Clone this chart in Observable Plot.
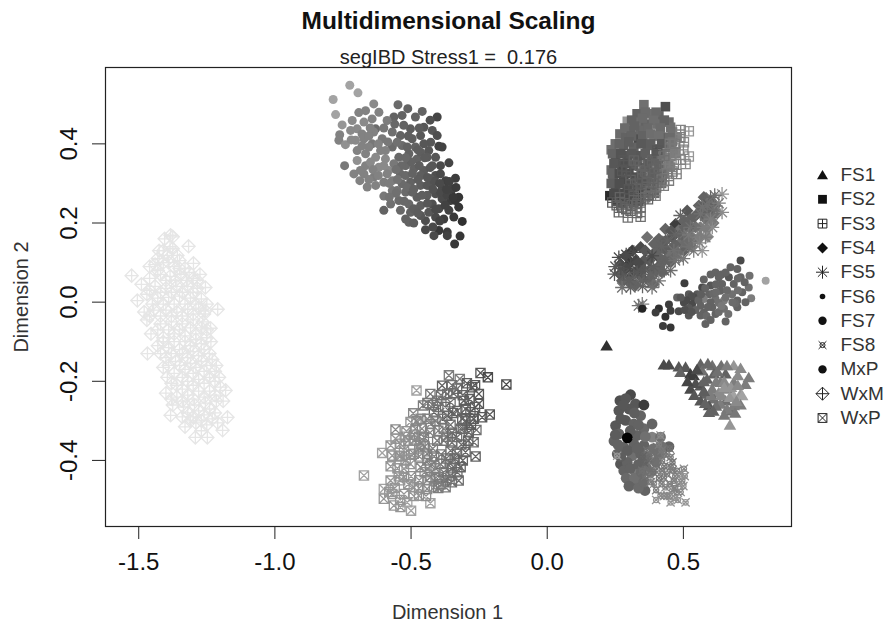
<!DOCTYPE html>
<html><head><meta charset="utf-8">
<script src="https://cdn.jsdelivr.net/npm/d3@7"></script>
<script src="https://cdn.jsdelivr.net/npm/@observablehq/plot@0.6"></script>
<style>html,body{margin:0;padding:0;background:#fff}svg{display:block}</style>
</head><body><div id="chart"></div>
<script>
// each row: [dimension 1, dimension 2, shade]
const FS1=[[.218,-.11,.1],[.428,-.158,.2],[.447,-.158,.2],[.483,-.163,.25],[.508,-.164,.25],[.489,-.177,.3],[.526,-.181,.15],[.563,-.156,.3],[.606,-.16,.35],[.639,-.16,.35],[.685,-.16,.5],[.71,-.167,.45],[.569,-.173,.35],[.612,-.181,.3],[.655,-.181,.3],[.538,-.185,.15],[.587,-.194,.3],[.636,-.202,.4],[.685,-.202,.4],[.728,-.207,.4],[.526,-.219,.2],[.563,-.211,.25],[.606,-.219,.4],[.661,-.219,.45],[.71,-.232,.5],[.581,-.232,.3],[.63,-.228,.45],[.685,-.236,.55],[.716,-.236,.55],[.563,-.249,.25],[.612,-.244,.35],[.655,-.249,.35],[.71,-.259,.4],[.594,-.261,.25],[.636,-.257,.4],[.679,-.274,.35],[.594,-.278,.3],[.685,-.261,.4],[.671,-.31,.5],
[.55,-.17,.2],[.59,-.155,.32],[.625,-.175,.35],[.66,-.16,.4],[.7,-.185,.45],[.74,-.19,.4],[.545,-.205,.22],[.575,-.2,.3],[.62,-.2,.4],[.65,-.2,.45],[.675,-.215,.5],[.7,-.21,.45],[.6,-.235,.4],[.64,-.235,.45],[.67,-.24,.5],[.695,-.25,.45],[.575,-.225,.28],[.58,-.255,.3],[.62,-.262,.35],[.66,-.27,.4],[.61,-.275,.3],[.69,-.28,.38],[.65,-.285,.38],[.515,-.2,.18],[.54,-.235,.25],[.65,-.215,.5]];
const FS2=[[.355,.499,.35],[.434,.494,.22],[.33,.476,.3],[.379,.476,.35],[.41,.471,.3],[.294,.457,.5],[.336,.455,.35],[.447,.455,.33],[.361,.45,.3],[.404,.45,.35],[.267,.425,.33],[.306,.434,.3],[.343,.434,.32],[.392,.421,.42],[.453,.442,.35],[.288,.417,.3],[.336,.412,.2],[.434,.417,.3],[.477,.417,.42],[.235,.385,.35],[.281,.396,.28],[.318,.391,.3],[.367,.396,.3],[.404,.387,.2],[.453,.391,.35],[.251,.358,.2],[.294,.37,.25],[.343,.37,.25],[.385,.362,.3],[.434,.366,.4],[.235,.334,.32],[.275,.337,.2],[.318,.345,.28],[.361,.341,.28],[.41,.332,.3],[.453,.341,.4],[.242,.311,.3],[.281,.307,.2],[.324,.316,.22],[.367,.307,.25],[.41,.307,.3],[.251,.29,.25],[.294,.286,.22],[.336,.286,.22],[.379,.286,.3],[.23,.269,.08],[.263,.265,.2],[.306,.265,.22],[.343,.269,.15],[.275,.252,.2],[.318,.252,.22],[.422,.32,.35],
[.36,.48,.33],[.4,.48,.32],[.31,.46,.3],[.35,.465,.33],[.39,.46,.34],[.43,.46,.3],[.285,.44,.33],[.32,.445,.3],[.37,.44,.32],[.415,.44,.33],[.46,.43,.35],[.31,.42,.3],[.35,.42,.3],[.38,.425,.34],[.41,.42,.35],[.45,.415,.33],[.25,.4,.34],[.265,.4,.3],[.3,.405,.28],[.345,.4,.26],[.38,.4,.28],[.42,.4,.26],[.46,.405,.36],[.24,.375,.3],[.27,.375,.24],[.31,.375,.26],[.36,.375,.28],[.4,.375,.26],[.42,.375,.34],[.47,.375,.4],[.245,.35,.25],[.285,.35,.22],[.33,.355,.25],[.37,.35,.27],[.41,.35,.3],[.445,.35,.38],[.24,.325,.3],[.265,.325,.22],[.3,.325,.22],[.345,.325,.25],[.385,.325,.28],[.43,.325,.34],[.235,.3,.28],[.265,.3,.22],[.31,.3,.22],[.345,.3,.24],[.39,.3,.28],[.42,.3,.33],[.245,.275,.2],[.285,.275,.2],[.32,.275,.22],[.36,.275,.22],[.395,.275,.3],[.255,.255,.18],[.295,.255,.2],[.335,.255,.2]];
const FS3=[[.52,.432,.5],[.502,.404,.45],[.489,.417,.4],[.52,.368,.5],[.508,.349,.45],[.475,.324,.4],[.453,.37,.4],[.471,.379,.4],[.41,.337,.35],[.392,.337,.3],[.447,.307,.4],[.428,.294,.4],[.398,.269,.4],[.343,.216,.35],[.296,.214,.35],[.263,.227,.3],[.306,.231,.3],[.239,.252,.25],[.267,.265,.3],[.343,.257,.3],[.281,.358,.25],[.306,.309,.3],[.343,.286,.3],[.367,.303,.3],[.41,.316,.3],[.385,.358,.3],[.404,.383,.25],[.275,.332,.25],[.318,.269,.3],[.275,.24,.3],[.373,.269,.35],[.434,.349,.4],[.465,.349,.4],[.349,.324,.3],[.318,.358,.3],[.343,.24,.3],
[.5,.385,.42],[.49,.36,.42],[.46,.33,.4],[.44,.325,.38],[.42,.31,.35],[.4,.29,.35],[.38,.28,.33],[.36,.265,.32],[.33,.25,.3],[.31,.245,.3],[.29,.235,.3],[.255,.245,.28],[.285,.25,.28],[.33,.225,.33],[.39,.3,.3],[.36,.33,.3],[.33,.3,.28],[.3,.285,.25],[.29,.33,.25],[.34,.345,.3],[.4,.35,.3],[.43,.37,.35],[.47,.4,.38],[.45,.4,.38],[.49,.435,.42],[.37,.26,.3]];
const FS4=[[.288,.117,.2],[.312,.13,.15],[.367,.164,.35],[.392,.147,.3],[.343,.139,.2],[.269,.096,.2],[.306,.101,.15],[.355,.105,.25],[.392,.122,.3],[.422,.139,.3],[.434,.185,.3],[.459,.164,.25],[.471,.197,.15],[.483,.181,.35],[.514,.231,.25],[.502,.206,.3],[.526,.21,.3],[.551,.223,.3],[.575,.265,.3],[.6,.257,.35],[.557,.244,.3],[.587,.235,.3],[.618,.244,.3],[.581,.21,.35],[.563,.189,.4],[.526,.168,.35],[.489,.151,.35],[.453,.134,.3],[.416,.109,.3],[.379,.084,.3],[.343,.071,.25],[.306,.063,.2],[.275,.054,.3],[.324,.042,.3],[.373,.054,.3],[.422,.075,.3],[.453,.101,.3],[.502,.13,.3],[.538,.155,.35],[.587,.185,.4],[.41,.16,.3],[.447,.117,.35],[.343,.088,.25],[.612,.223,.3],[.532,.189,.35],
[.29,.085,.2],[.32,.075,.2],[.325,.105,.18],[.3,.05,.3],[.35,.06,.28],[.36,.13,.25],[.375,.105,.25],[.395,.075,.3],[.405,.13,.3],[.43,.105,.3],[.435,.155,.28],[.465,.115,.32],[.47,.145,.3],[.455,.18,.25],[.495,.17,.3],[.51,.15,.33],[.505,.19,.3],[.53,.14,.35],[.545,.19,.35],[.56,.165,.4],[.54,.215,.3],[.57,.225,.3],[.575,.245,.28],[.595,.215,.35],[.61,.2,.38],[.625,.225,.35],[.6,.235,.3],[.59,.165,.45],[.385,.065,.3],[.41,.09,.3],[.335,.1,.2],[.27,.07,.28],[.43,.135,.28],[.52,.19,.3],[.48,.125,.33],[.39,.045,.32]];
const FS5=[[.642,.273,.5],[.642,.227,.45],[.569,.13,.5],[.247,.071,.25],[.275,.037,.35],[.385,.037,.35],[.349,-.005,.4],[.336,-.009,.35],[.6,.265,.3],[.587,.244,.35],[.606,.189,.45],[.581,.164,.4],[.538,.13,.4],[.483,.113,.35],[.453,.08,.35],[.41,.054,.35],[.343,.054,.3],[.306,.037,.3],[.263,.113,.2],[.306,.096,.2],[.385,.117,.2],[.441,.155,.3],[.502,.172,.35],[.526,.189,.35],[.563,.223,.35],[.489,.219,.3],[.281,.071,.25],[.361,.08,.25],[.404,.088,.3],[.575,.189,.4],[.465,.13,.35],[.318,.063,.3],[.551,.164,.4],[.422,.113,.3],[.318,.126,.2],[.612,.235,.35],
[.29,.12,.2],[.27,.085,.22],[.33,.075,.25],[.35,.04,.3],[.38,.07,.3],[.43,.08,.3],[.47,.105,.35],[.52,.14,.35],[.56,.15,.42],[.6,.21,.4],[.63,.25,.4],[.42,.14,.3],[.47,.17,.3],[.52,.17,.38],[.57,.24,.35],[.3,.055,.28],[.25,.09,.25],[.39,.09,.28],[.5,.11,.38],[.615,.27,.35]];
const FS6=[[.71,.105,.2],[.802,.054,.55],[.743,.067,.35],[.673,.088,.3],[.698,.084,.3],[.618,.075,.3],[.667,.063,.25],[.71,.063,.3],[.63,.063,.3],[.575,.057,.3],[.504,.048,.15],[.569,.037,.2],[.6,.042,.25],[.642,.046,.3],[.685,.046,.3],[.74,.037,.35],[.551,.02,.25],[.594,.02,.3],[.636,.029,.3],[.679,.02,.35],[.716,.025,.3],[.749,.01,.4],[.477,.012,.3],[.52,.02,.25],[.538,.012,.2],[.575,.008,.4],[.618,.008,.35],[.649,.004,.4],[.698,.004,.3],[.728,0,.3],[.502,-.001,.2],[.532,-.005,.2],[.563,-.009,.3],[.606,-.013,.3],[.649,-.017,.35],[.698,-.013,.3],[.447,-.006,.15],[.41,-.016,.1],[.398,-.026,.15],[.349,-.017,.05],[.453,-.022,.15],[.434,-.037,.1],[.483,-.023,.2],[.52,-.034,.25],[.575,-.026,.3],[.618,-.03,.3],[.655,-.049,.3],[.581,-.055,.3],[.563,-.034,.3],[.425,-.06,.15],[.453,-.064,.12],
[.6,.07,.3],[.64,.07,.3],[.58,.035,.3],[.62,.045,.3],[.66,.03,.32],[.7,.03,.35],[.725,.05,.3],[.61,.022,.32],[.655,.012,.35],[.69,-.003,.32],[.6,0,.3],[.63,-.002,.35],[.59,-.012,.3],[.53,.015,.22],[.555,.005,.3],[.51,.005,.2],[.49,.012,.25],[.545,-.02,.3],[.585,-.035,.32],[.63,-.025,.33],[.665,-.03,.35],[.6,-.045,.3],[.7,.06,.32],[.655,.075,.3],[.64,-.01,.38],[.52,-.015,.25],[.505,-.02,.22],[.68,0,.33],[.565,.02,.28],[.62,.025,.33],[.53,-.025,.24]];
const FS7=[[-.725,.548,.55],[-.695,.529,.55],[-.786,.512,.55],[-.777,.474,.55],[-.753,.448,.5],[-.762,.423,.42],[-.765,.409,.42],[-.741,.398,.48],[-.744,.345,.38],[-.71,.324,.42],[-.688,.307,.42],[-.661,.291,.42],[-.6,.232,.3],[-.637,.501,.45],[-.667,.484,.42],[-.692,.479,.42],[-.618,.48,.42],[-.548,.499,.33],[-.512,.489,.3],[-.459,.482,.3],[-.533,.472,.3],[-.484,.468,.3],[-.563,.468,.3],[-.404,.468,.18],[-.588,.459,.4],[-.716,.459,.45],[-.673,.455,.45],[-.643,.463,.42],[-.63,.438,.33],[-.698,.438,.45],[-.722,.434,.45],[-.502,.438,.27],[-.453,.442,.25],[-.422,.434,.25],[-.404,.421,.22],[-.539,.421,.3],[-.569,.43,.35],[-.673,.413,.42],[-.704,.409,.45],[-.606,.413,.38],[-.643,.4,.38],[-.569,.392,.33],[-.533,.396,.33],[-.496,.413,.28],[-.465,.421,.25],[-.435,.383,.25],[-.398,.394,.17],[-.386,.392,.17],[-.698,.383,.42],[-.667,.375,.42],[-.698,.358,.48],[-.63,.366,.45],[-.594,.362,.45],[-.667,.345,.42],[-.618,.341,.45],[-.582,.333,.45],[-.545,.366,.32],[-.508,.375,.3],[-.478,.362,.3],[-.441,.366,.27],[-.41,.366,.25],[-.392,.345,.2],[-.361,.352,.18],[-.52,.345,.32],[-.49,.337,.3],[-.453,.333,.27],[-.422,.345,.25],[-.539,.324,.32],[-.673,.324,.42],[-.637,.316,.4],[-.6,.303,.4],[-.569,.282,.38],[-.6,.268,.38],[-.533,.299,.33],[-.502,.303,.3],[-.465,.295,.28],[-.41,.32,.22],[-.373,.307,.17],[-.337,.313,.15],[-.441,.295,.25],[-.386,.286,.2],[-.349,.286,.17],[-.41,.274,.22],[-.441,.27,.27],[-.478,.265,.28],[-.52,.278,.33],[-.545,.257,.33],[-.575,.248,.35],[-.508,.248,.32],[-.325,.265,.12],[-.355,.257,.15],[-.386,.261,.2],[-.422,.248,.22],[-.465,.244,.28],[-.539,.232,.32],[-.502,.227,.3],[-.52,.21,.3],[-.337,.257,.12],[-.325,.24,.12],[-.361,.232,.17],[-.398,.236,.2],[-.435,.227,.25],[-.41,.215,.2],[-.38,.21,.15],[-.343,.215,.13],[-.312,.204,.1],[-.508,.202,.3],[-.447,.206,.22],[-.447,.183,.2],[-.398,.181,.13],[-.416,.168,.2],[-.367,.177,.15],[-.367,.168,.17],[-.32,.167,.12],[-.34,.147,.13],[-.655,.392,.42],[-.68,.425,.42],[-.594,.383,.42],[-.551,.404,.35],[-.514,.392,.3],[-.484,.392,.3],[-.465,.379,.28],[-.612,.383,.42],[-.649,.354,.45],[-.563,.35,.38],[-.465,.32,.28],[-.428,.312,.25],[-.569,.307,.4],[-.63,.295,.42],[-.551,.282,.36],[-.496,.278,.3],[-.392,.324,.2],[-.588,.324,.42],[-.686,.333,.42],[-.637,.43,.42],[-.527,.447,.3],[-.428,.404,.25],[-.453,.4,.25],[-.465,.219,.25],[-.49,.236,.28],[-.392,.278,.2],[-.367,.27,.18],
[-.72,.41,.45],[-.68,.395,.42],[-.655,.42,.42],[-.62,.4,.42],[-.585,.405,.38],[-.6,.345,.45],[-.64,.335,.42],[-.655,.31,.42],[-.62,.32,.42],[-.58,.3,.4],[-.55,.31,.36],[-.52,.32,.32],[-.5,.355,.3],[-.52,.365,.32],[-.535,.345,.32],[-.555,.335,.35],[-.475,.385,.28],[-.45,.365,.27],[-.47,.345,.28],[-.43,.34,.25],[-.415,.305,.23],[-.44,.315,.25],[-.475,.31,.28],[-.495,.325,.3],[-.515,.29,.33],[-.49,.285,.3],[-.46,.27,.28],[-.42,.285,.23],[-.395,.3,.2],[-.37,.285,.17],[-.36,.305,.17],[-.335,.29,.14],[-.345,.265,.13],[-.375,.245,.17],[-.41,.235,.2],[-.44,.25,.25],[-.475,.225,.27],[-.525,.255,.32],[-.555,.275,.35],[-.58,.265,.36],[-.49,.2,.28],[-.42,.19,.2],[-.395,.205,.17],[-.51,.42,.28],[-.47,.44,.27],[-.56,.45,.32],[-.6,.44,.38],[-.65,.44,.42],[-.43,.46,.22]];
const FS8=[[.257,-.388,.5],[.367,-.417,.35],[.508,-.506,.5],[.453,-.506,.5],[.416,-.489,.45],[.477,-.48,.4],[.502,-.421,.45],[.496,-.451,.45],[.441,-.384,.4],[.416,-.337,.45],[.404,-.367,.35],[.453,-.417,.4],[.428,-.443,.4],[.385,-.4,.35],[.355,-.405,.3],[.392,-.459,.45],[.465,-.451,.4],[.434,-.468,.45],[.398,-.426,.4],[.477,-.426,.4],[.373,-.388,.35],[.422,-.4,.4],[.349,-.426,.35],[.459,-.476,.45],[.379,-.438,.4],[.41,-.384,.35],[.453,-.392,.4],[.483,-.459,.45],[.422,-.426,.4],[.367,-.375,.35],[.441,-.489,.45],
[.37,-.395,.33],[.39,-.385,.35],[.43,-.385,.38],[.45,-.37,.35],[.4,-.41,.35],[.43,-.415,.38],[.46,-.405,.38],[.44,-.435,.4],[.47,-.44,.42],[.49,-.435,.45],[.41,-.445,.38],[.38,-.455,.4],[.45,-.46,.42],[.42,-.46,.42],[.4,-.475,.42],[.47,-.47,.42],[.49,-.48,.45],[.43,-.49,.45],[.48,-.5,.5],[.45,-.49,.45],[.36,-.44,.35],[.41,-.36,.4],[.42,-.375,.38],[.39,-.43,.35],[.35,-.39,.3],[.46,-.425,.4],[.5,-.465,.48],[.47,-.495,.48],[.505,-.44,.48],[.4,-.5,.5]];
const MxP=[[.306,-.234,.2],[.267,-.249,.22],[.288,-.244,.25],[.324,-.257,.25],[.355,-.26,.15],[.263,-.274,.25],[.3,-.27,.25],[.343,-.287,.3],[.251,-.312,.25],[.288,-.299,.25],[.318,-.308,.3],[.355,-.32,.32],[.385,-.308,.3],[.263,-.333,.3],[.33,-.337,.3],[.385,-.341,.42],[.416,-.341,.35],[.245,-.351,.3],[.281,-.367,.3],[.318,-.358,.3],[.355,-.362,.3],[.447,-.365,.3],[.269,-.409,.25],[.312,-.388,.35],[.294,-.405,.3],[.281,-.426,.3],[.321,-.426,.4],[.312,-.458,.3],[.34,-.451,.35],[.359,-.476,.3],[.257,-.384,.3],[.355,-.4,.3],[.343,-.384,.3],
[.28,-.26,.25],[.32,-.28,.28],[.27,-.295,.25],[.305,-.325,.28],[.335,-.31,.3],[.36,-.34,.35],[.26,-.36,.3],[.295,-.375,.28],[.33,-.37,.3],[.36,-.39,.32],[.39,-.37,.35],[.42,-.365,.35],[.27,-.39,.28],[.305,-.42,.3],[.335,-.41,.3],[.29,-.445,.32],[.32,-.445,.35],[.345,-.43,.33],[.365,-.42,.33],[.3,-.465,.3],[.335,-.47,.33],[.38,-.43,.35],[.4,-.405,.35],[.41,-.385,.35],[.355,-.455,.33],[.25,-.335,.27],[.294,-.343,-.08]];
const WxM=[[-1.383,.169],[-1.375,.165],[-1.405,.16],[-1.317,.141],[-1.425,.13],[-1.375,.135],[-1.385,.14],[-1.358,.118],[-1.35,.105],[-1.395,.118],[-1.43,.11],[-1.299,.098],[-1.44,.095],[-1.41,.1],[-1.37,.09],[-1.33,.085],[-1.46,.09],[-1.526,.067],[-1.46,.06],[-1.42,.07],[-1.385,.065],[-1.345,.07],[-1.3,.06],[-1.275,.07],[-1.49,.045],[-1.44,.04],[-1.4,.035],[-1.36,.04],[-1.32,.04],[-1.285,.035],[-1.255,.037],[-1.505,.004],[-1.47,.02],[-1.43,.01],[-1.39,.012],[-1.35,.015],[-1.31,.01],[-1.27,.008],[-1.48,-.025],[-1.445,-.02],[-1.4,-.02],[-1.36,-.025],[-1.32,-.018],[-1.28,-.015],[-1.21,-.018],[-1.255,-.022],[-1.47,-.045],[-1.42,-.055],[-1.38,-.05],[-1.34,-.055],[-1.3,-.045],[-1.265,-.05],[-1.455,-.08],[-1.41,-.09],[-1.37,-.08],[-1.33,-.085],[-1.29,-.08],[-1.25,-.07],[-1.236,-.066],[-1.43,-.11],[-1.39,-.115],[-1.35,-.12],[-1.31,-.11],[-1.27,-.105],[-1.235,-.1],[-1.468,-.13],[-1.4,-.14],[-1.365,-.15],[-1.32,-.14],[-1.28,-.135],[-1.24,-.13],[-1.41,-.165],[-1.37,-.18],[-1.33,-.17],[-1.29,-.165],[-1.25,-.16],[-1.215,-.16],[-1.395,-.19],[-1.36,-.21],[-1.32,-.2],[-1.28,-.195],[-1.24,-.19],[-1.205,-.19],[-1.4,-.23],[-1.36,-.24],[-1.32,-.235],[-1.28,-.225],[-1.24,-.225],[-1.2,-.215],[-1.181,-.223],[-1.375,-.26],[-1.335,-.265],[-1.295,-.26],[-1.255,-.255],[-1.215,-.25],[-1.19,-.25],[-1.383,-.286],[-1.34,-.29],[-1.3,-.29],[-1.26,-.285],[-1.22,-.28],[-1.174,-.291],[-1.33,-.315],[-1.29,-.305],[-1.25,-.31],[-1.21,-.305],[-1.192,-.324],[-1.292,-.342],[-1.248,-.342],
[-1.41,.13],[-1.39,.1],[-1.43,.08],[-1.35,.085],[-1.315,.075],[-1.4,.055],[-1.365,.055],[-1.325,.055],[-1.285,.055],[-1.46,.03],[-1.42,.025],[-1.38,.025],[-1.34,.025],[-1.3,.025],[-1.45,-.005],[-1.41,-.005],[-1.37,-.005],[-1.33,-.005],[-1.29,-.005],[-1.25,-.005],[-1.46,-.035],[-1.42,-.035],[-1.38,-.035],[-1.34,-.035],[-1.3,-.03],[-1.26,-.03],[-1.43,-.07],[-1.39,-.07],[-1.35,-.07],[-1.31,-.065],[-1.27,-.065],[-1.41,-.1],[-1.37,-.1],[-1.33,-.1],[-1.29,-.095],[-1.25,-.09],[-1.42,-.13],[-1.38,-.13],[-1.34,-.13],[-1.3,-.125],[-1.26,-.12],[-1.39,-.16],[-1.35,-.16],[-1.31,-.155],[-1.27,-.15],[-1.23,-.145],[-1.38,-.205],[-1.34,-.19],[-1.3,-.18],[-1.26,-.175],[-1.22,-.175],[-1.34,-.22],[-1.3,-.21],[-1.26,-.205],[-1.22,-.2],[-1.38,-.245],[-1.34,-.25],[-1.3,-.245],[-1.26,-.24],[-1.22,-.235],[-1.32,-.28],[-1.28,-.275],[-1.24,-.27],[-1.31,-.3],[-1.27,-.3],[-1.23,-.295],[-1.27,-.325]];
const WxMshade=.81;
const WxP=[[-.673,-.438,.55],[-.48,-.223,.55],[-.15,-.208,.2],[-.245,-.179,.25],[-.218,-.19,.2],[-.361,-.185,.4],[-.321,-.194,.4],[-.456,-.261,.4],[-.492,-.281,.45],[-.557,-.322,.45],[-.517,-.326,.5],[-.502,-.303,.5],[-.606,-.381,.55],[-.575,-.362,.5],[-.557,-.345,.5],[-.569,-.388,.5],[-.575,-.415,.5],[-.526,-.421,.5],[-.263,-.39,.3],[-.26,-.323,.35],[-.211,-.284,.25],[-.239,-.291,.25],[-.27,-.354,.35],[-.429,-.508,.55],[-.5,-.527,.55],[-.563,-.514,.5],[-.539,-.518,.5],[-.514,-.506,.55],[-.471,-.489,.5],[-.6,-.497,.5],[-.6,-.472,.55],[-.575,-.451,.5],[-.569,-.485,.5],[-.526,-.485,.5],[-.526,-.442,.5],[-.49,-.468,.5],[-.416,-.468,.45],[-.373,-.468,.4],[-.325,-.451,.35],[-.355,-.438,.35],[-.429,-.442,.4],[-.465,-.417,.45],[-.49,-.383,.45],[-.526,-.375,.5],[-.441,-.383,.4],[-.392,-.409,.35],[-.318,-.417,.3],[-.355,-.375,.35],[-.3,-.379,.3],[-.404,-.35,.4],[-.453,-.341,.4],[-.484,-.32,.45],[-.49,-.35,.45],[-.429,-.308,.42],[-.38,-.32,.4],[-.331,-.341,.35],[-.288,-.329,.3],[-.312,-.295,.3],[-.367,-.287,.25],[-.416,-.278,.3],[-.282,-.278,.28],[-.251,-.257,.25],[-.306,-.249,.3],[-.355,-.253,.35],[-.404,-.249,.35],[-.429,-.232,.38],[-.386,-.211,.3],[-.331,-.219,.32],[-.276,-.215,.25],[-.251,-.232,.25],[-.367,-.232,.35],[-.465,-.295,.45],[-.545,-.388,.5],[-.465,-.358,.45],[-.38,-.35,.38],[-.355,-.409,.33],[-.429,-.413,.4],[-.331,-.383,.33],[-.502,-.409,.5],[-.398,-.442,.38],[-.441,-.472,.45],[-.318,-.32,.33],[-.539,-.358,.48],
[-.56,-.47,.5],[-.54,-.45,.5],[-.55,-.42,.5],[-.545,-.44,.5],[-.51,-.46,.5],[-.5,-.44,.48],[-.47,-.45,.47],[-.45,-.43,.45],[-.47,-.47,.47],[-.49,-.49,.5],[-.54,-.5,.5],[-.58,-.48,.5],[-.44,-.45,.45],[-.41,-.445,.42],[-.39,-.46,.4],[-.38,-.43,.38],[-.35,-.455,.35],[-.35,-.42,.35],[-.41,-.42,.42],[-.44,-.4,.42],[-.47,-.39,.45],[-.5,-.385,.47],[-.51,-.35,.47],[-.52,-.34,.48],[-.47,-.37,.45],[-.45,-.365,.42],[-.42,-.37,.4],[-.415,-.39,.4],[-.39,-.385,.38],[-.37,-.395,.35],[-.34,-.395,.33],[-.31,-.4,.3],[-.315,-.36,.32],[-.35,-.355,.35],[-.37,-.34,.37],[-.4,-.325,.4],[-.43,-.33,.42],[-.46,-.32,.43],[-.47,-.34,.44],[-.44,-.295,.42],[-.41,-.3,.4],[-.385,-.295,.37],[-.355,-.31,.35],[-.35,-.33,.33],[-.31,-.32,.32],[-.29,-.35,.3],[-.3,-.3,.3],[-.27,-.295,.27],[-.265,-.265,.27],[-.3,-.27,.28],[-.33,-.275,.3],[-.345,-.28,.3],[-.375,-.265,.32],[-.4,-.265,.35],[-.42,-.26,.37],[-.44,-.255,.38],[-.39,-.235,.35],[-.345,-.23,.33],[-.31,-.235,.3],[-.285,-.245,.28],[-.265,-.21,.25],[-.295,-.205,.28],[-.35,-.21,.35],[-.48,-.3,.44],[-.49,-.335,.46],[-.33,-.43,.32],[-.37,-.45,.36],[-.4,-.47,.4],[-.445,-.49,.47],[-.52,-.4,.48],[-.54,-.39,.48],[-.28,-.31,.27]];

const groupNames=["FS1","FS2","FS3","FS4","FS5","FS6","FS7","FS8","MxP","WxM","WxP"];
const xTicks=[-1.5,-1,-.5,0,.5];
const yTicks=[-.4,-.2,0,.2,.4];

const hw=s=>Math.sqrt(s/Math.PI);
const symTriangle={draw(c,s){const r=hw(s);c.moveTo(0,-r);c.lineTo(r*1.1,r*.85);c.lineTo(-r*1.1,r*.85);c.closePath();}};
const symSquare={draw(c,s){const r=hw(s);c.rect(-r,-r,2*r,2*r);}};
const symSquarePlus={draw(c,s){const r=hw(s);c.rect(-r,-r,2*r,2*r);c.moveTo(-r,0);c.lineTo(r,0);c.moveTo(0,-r);c.lineTo(0,r);}};
const symDiamond={draw(c,s){const r=hw(s);c.moveTo(0,-r);c.lineTo(r,0);c.lineTo(0,r);c.lineTo(-r,0);c.closePath();}};
const symStar={draw(c,s){const r=hw(s),a=r*.707;c.moveTo(-r,0);c.lineTo(r,0);c.moveTo(0,-r);c.lineTo(0,r);c.moveTo(-a,-a);c.lineTo(a,a);c.moveTo(-a,a);c.lineTo(a,-a);}};
const symCircleX={draw(c,s){const r=hw(s),a=r*.85;c.moveTo(r*.55,0);c.arc(0,0,r*.55,0,2*Math.PI);c.moveTo(-a,-a);c.lineTo(a,a);c.moveTo(-a,a);c.lineTo(a,-a);}};
const symDiamondPlus={draw(c,s){const r=hw(s);c.moveTo(0,-r);c.lineTo(r,0);c.lineTo(0,r);c.lineTo(-r,0);c.closePath();c.moveTo(-r,0);c.lineTo(r,0);c.moveTo(0,-r);c.lineTo(0,r);}};
const symSquareX={draw(c,s){const r=hw(s);c.rect(-r,-r,2*r,2*r);c.moveTo(-r,-r);c.lineTo(r,r);c.moveTo(-r,r);c.lineTo(r,-r);}};
const symCircle={draw(c,s){const r=hw(s);c.moveTo(r,0);c.arc(0,0,r,0,2*Math.PI);}};

const seriesDraw=[
 [FS2,symSquare,4.8,true],[FS3,symSquarePlus,4.6,false],[FS4,symDiamond,6.2,true],[FS5,symStar,7,false],
 [FS1,symTriangle,5.7,true],[FS6,symCircle,4,true],[FS7,symCircle,4.5,true],[MxP,symCircle,5.4,true],[FS8,symCircleX,4.8,false],
 [WxM.map(d=>[d[0],d[1],WxMshade]),symDiamondPlus,6.6,false],[WxP,symSquareX,4.6,false]];
const legendSym=[[symTriangle,5],[symSquare,4.4],[symSquarePlus,4.4],[symDiamond,5.5],[symStar,6.5],[symCircle,2.8],[symCircle,4.2],[symCircleX,4.6],[symCircle,4.2],[symDiamondPlus,6.5],[symSquareX,4.4]];

const font="Liberation Sans, Arial, sans-serif";
const marks=[];
for(const [rows,symbol,r,filled] of seriesDraw){
  marks.push(Plot.dot(rows,{x:d=>d[0],y:d=>d[1],r,symbol,
    ...(filled?{fill:d=>d[2],stroke:"none"}:{stroke:d=>d[2],fill:"none",strokeWidth:1.3})}));
}
marks.push(Plot.frame({stroke:"#222",strokeWidth:1.2}));
marks.push(Plot.axisX({ticks:xTicks,tickSize:13,tickPadding:13,tickFormat:d=>d.toFixed(1),label:null,fontSize:24,stroke:"#222",fill:"#111"}));
marks.push(Plot.axisY({ticks:yTicks,tickSize:13,tickPadding:16,tickRotate:-90,tickFormat:d=>d.toFixed(1),label:null,fontSize:24,stroke:"#222",fill:"#111"}));
const label=(t,anchor,dx,dy,o={})=>Plot.text([t],{text:d=>d,frameAnchor:anchor,dx,dy,fontFamily:font,...o});
marks.push(label("Multidimensional Scaling","top",0,-56,{fontSize:24.5,fontWeight:"bold",fill:"#111"}));
marks.push(label("segIBD Stress1 =  0.176","top",0,-18,{fontSize:20,fill:"#222"}));
marks.push(label("Dimension 1","bottom",-1,92,{fontSize:20,fill:"#333"}));
marks.push(label("Dimension 2","left",-84,0,{fontSize:20,fill:"#333",rotate:-90,textAnchor:"middle"}));
groupNames.forEach((g,i)=>{
  const [symbol,r]=legendSym[i];
  const dy=107.5+i*24.3, filled=[0,1,3,5,6,8].includes(i);
  marks.push(Plot.dot([g],{frameAnchor:"top-right",dx:31,dy,r,symbol,...(filled?{fill:"#111"}:{stroke:"#222",fill:"none",strokeWidth:1})}));
  marks.push(label(g,"top-right",49,dy,{fontSize:19,textAnchor:"start",lineAnchor:"middle",fill:"#333"}));
});

const chart=Plot.plot({width:884,height:621,marginLeft:105,marginRight:93,marginTop:67,marginBottom:95,
  style:{fontFamily:font,background:"#fff",overflow:"visible"},
  x:{domain:[-1.622,.897]},y:{domain:[-.567,.593]},
  color:{type:"linear",domain:[-.09,.91],range:["#000","#fff"]},
  marks});
document.getElementById("chart").append(chart);
</script></body></html>
